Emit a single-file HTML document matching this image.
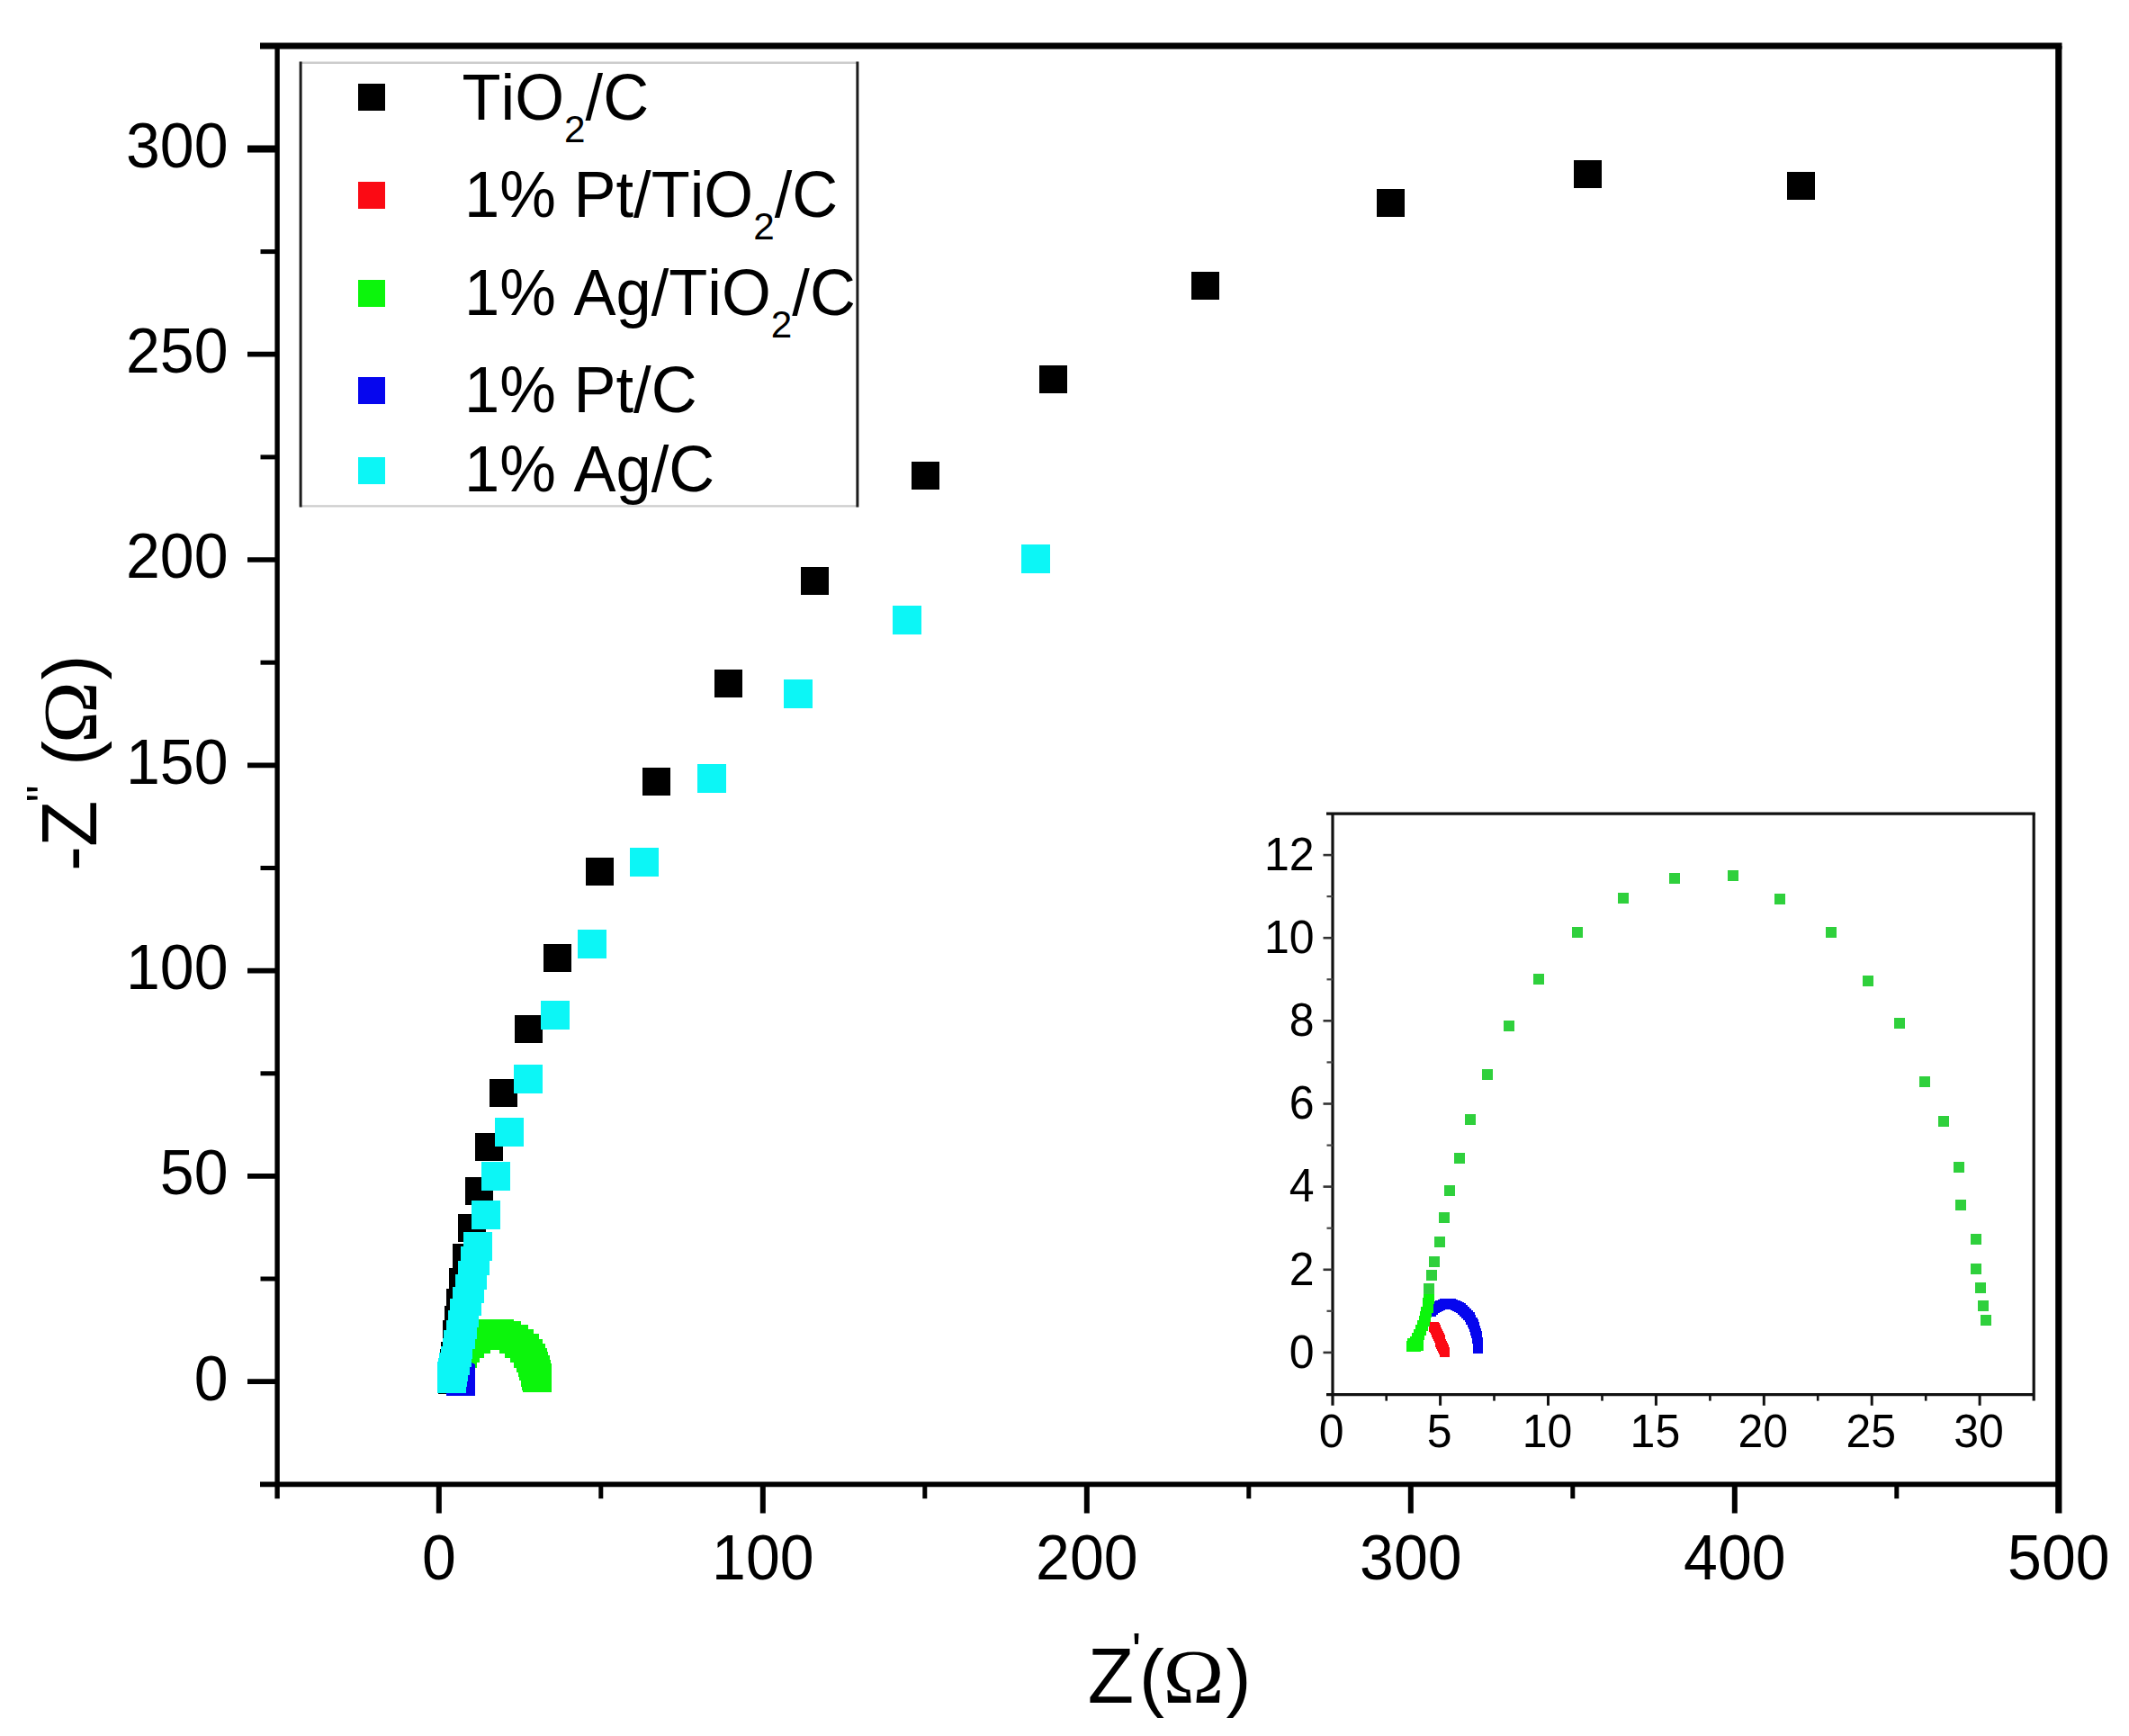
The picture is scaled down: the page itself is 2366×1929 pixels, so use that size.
<!DOCTYPE html>
<html lang="en">
<head>
<meta charset="utf-8">
<title>Nyquist plot</title>
<style>
html,body{margin:0;padding:0;background:#fff;}
body{width:2366px;height:1929px;overflow:hidden;}
svg{display:block;}
text{white-space:pre;font-kerning:none;}
</style>
</head>
<body>
<svg width="2366" height="1929" viewBox="0 0 2366 1929">
<rect x="0" y="0" width="2366" height="1929" fill="#ffffff"/>
<g shape-rendering="crispEdges">
<rect x="1985.8" y="190.8" width="31" height="31" fill="#000000"/>
<rect x="1748.6" y="177.9" width="31" height="31" fill="#000000"/>
<rect x="1529.5" y="210.0" width="31" height="31" fill="#000000"/>
<rect x="1323.6" y="302.2" width="31" height="31" fill="#000000"/>
<rect x="1154.7" y="406.3" width="31" height="31" fill="#000000"/>
<rect x="1012.9" y="512.8" width="31" height="31" fill="#000000"/>
<rect x="890.2" y="629.5" width="31" height="31" fill="#000000"/>
<rect x="793.5" y="744.1" width="31" height="31" fill="#000000"/>
<rect x="714.2" y="853.1" width="31" height="31" fill="#000000"/>
<rect x="650.7" y="953.0" width="31" height="31" fill="#000000"/>
<rect x="604.2" y="1049.3" width="31" height="31" fill="#000000"/>
<rect x="571.5" y="1128.4" width="31" height="31" fill="#000000"/>
<rect x="544.3" y="1199.2" width="31" height="31" fill="#000000"/>
<rect x="528.2" y="1258.8" width="31" height="31" fill="#000000"/>
<rect x="517.0" y="1308.2" width="31" height="31" fill="#000000"/>
<rect x="509.1" y="1349.2" width="31" height="31" fill="#000000"/>
<rect x="503.3" y="1382.2" width="31" height="31" fill="#000000"/>
<rect x="499.2" y="1409.2" width="31" height="31" fill="#000000"/>
<rect x="496.0" y="1431.5" width="31" height="31" fill="#000000"/>
<rect x="493.5" y="1450.5" width="31" height="31" fill="#000000"/>
<rect x="491.5" y="1466.5" width="31" height="31" fill="#000000"/>
<rect x="491.5" y="1479.5" width="31" height="31" fill="#000000"/>
<rect x="490.2" y="1490.5" width="31" height="31" fill="#000000"/>
<rect x="489.2" y="1498.5" width="31" height="31" fill="#000000"/>
<rect x="488.4" y="1505.5" width="31" height="31" fill="#000000"/>
<rect x="487.8" y="1510.5" width="31" height="31" fill="#000000"/>
<rect x="487.2" y="1514.5" width="31" height="31" fill="#000000"/>
<rect x="486.8" y="1517.5" width="31" height="31" fill="#000000"/>
<rect x="498.5" y="1520.1" width="22" height="22" fill="#fb0a14"/>
<rect x="498.4" y="1519.9" width="22" height="22" fill="#fb0a14"/>
<rect x="498.2" y="1519.7" width="22" height="22" fill="#fb0a14"/>
<rect x="498.1" y="1519.5" width="22" height="22" fill="#fb0a14"/>
<rect x="498.0" y="1519.2" width="22" height="22" fill="#fb0a14"/>
<rect x="497.8" y="1519.0" width="22" height="22" fill="#fb0a14"/>
<rect x="497.7" y="1518.8" width="22" height="22" fill="#fb0a14"/>
<rect x="497.6" y="1518.6" width="22" height="22" fill="#fb0a14"/>
<rect x="497.4" y="1518.4" width="22" height="22" fill="#fb0a14"/>
<rect x="497.3" y="1518.2" width="22" height="22" fill="#fb0a14"/>
<rect x="497.2" y="1517.9" width="22" height="22" fill="#fb0a14"/>
<rect x="497.0" y="1517.7" width="22" height="22" fill="#fb0a14"/>
<rect x="496.9" y="1517.5" width="22" height="22" fill="#fb0a14"/>
<rect x="496.7" y="1517.4" width="22" height="22" fill="#fb0a14"/>
<rect x="486.6" y="1515.7" width="32" height="32" fill="#0cf50c"/>
<rect x="486.8" y="1515.2" width="32" height="32" fill="#0cf50c"/>
<rect x="487.1" y="1514.7" width="32" height="32" fill="#0cf50c"/>
<rect x="487.3" y="1514.2" width="32" height="32" fill="#0cf50c"/>
<rect x="487.5" y="1513.7" width="32" height="32" fill="#0cf50c"/>
<rect x="487.7" y="1513.2" width="32" height="32" fill="#0cf50c"/>
<rect x="487.8" y="1512.7" width="32" height="32" fill="#0cf50c"/>
<rect x="487.9" y="1512.2" width="32" height="32" fill="#0cf50c"/>
<rect x="487.9" y="1511.7" width="32" height="32" fill="#0cf50c"/>
<rect x="488.0" y="1511.1" width="32" height="32" fill="#0cf50c"/>
<rect x="488.4" y="1509.7" width="32" height="32" fill="#0cf50c"/>
<rect x="488.8" y="1508.2" width="32" height="32" fill="#0cf50c"/>
<rect x="489.7" y="1506.0" width="32" height="32" fill="#0cf50c"/>
<rect x="490.4" y="1503.3" width="32" height="32" fill="#0cf50c"/>
<rect x="491.4" y="1500.3" width="32" height="32" fill="#0cf50c"/>
<rect x="492.9" y="1496.8" width="32" height="32" fill="#0cf50c"/>
<rect x="494.9" y="1492.5" width="32" height="32" fill="#0cf50c"/>
<rect x="497.6" y="1487.6" width="32" height="32" fill="#0cf50c"/>
<rect x="501.2" y="1482.2" width="32" height="32" fill="#0cf50c"/>
<rect x="506.3" y="1477.1" width="32" height="32" fill="#0cf50c"/>
<rect x="512.7" y="1471.9" width="32" height="32" fill="#0cf50c"/>
<rect x="520.3" y="1468.2" width="32" height="32" fill="#0cf50c"/>
<rect x="528.9" y="1466.0" width="32" height="32" fill="#0cf50c"/>
<rect x="538.7" y="1465.7" width="32" height="32" fill="#0cf50c"/>
<rect x="546.5" y="1468.3" width="32" height="32" fill="#0cf50c"/>
<rect x="555.0" y="1471.9" width="32" height="32" fill="#0cf50c"/>
<rect x="561.1" y="1477.3" width="32" height="32" fill="#0cf50c"/>
<rect x="566.5" y="1481.9" width="32" height="32" fill="#0cf50c"/>
<rect x="570.6" y="1488.4" width="32" height="32" fill="#0cf50c"/>
<rect x="573.8" y="1492.7" width="32" height="32" fill="#0cf50c"/>
<rect x="576.3" y="1497.8" width="32" height="32" fill="#0cf50c"/>
<rect x="576.6" y="1501.9" width="32" height="32" fill="#0cf50c"/>
<rect x="579.2" y="1505.7" width="32" height="32" fill="#0cf50c"/>
<rect x="579.2" y="1509.0" width="32" height="32" fill="#0cf50c"/>
<rect x="579.9" y="1511.1" width="32" height="32" fill="#0cf50c"/>
<rect x="580.4" y="1513.0" width="32" height="32" fill="#0cf50c"/>
<rect x="580.8" y="1514.6" width="32" height="32" fill="#0cf50c"/>
<rect x="496.1" y="1518.7" width="32" height="32" fill="#0606ee"/>
<rect x="496.1" y="1518.4" width="32" height="32" fill="#0606ee"/>
<rect x="496.1" y="1518.1" width="32" height="32" fill="#0606ee"/>
<rect x="496.0" y="1517.7" width="32" height="32" fill="#0606ee"/>
<rect x="495.9" y="1517.4" width="32" height="32" fill="#0606ee"/>
<rect x="495.8" y="1517.1" width="32" height="32" fill="#0606ee"/>
<rect x="495.7" y="1516.7" width="32" height="32" fill="#0606ee"/>
<rect x="495.5" y="1516.4" width="32" height="32" fill="#0606ee"/>
<rect x="495.3" y="1516.1" width="32" height="32" fill="#0606ee"/>
<rect x="495.1" y="1515.8" width="32" height="32" fill="#0606ee"/>
<rect x="494.9" y="1515.6" width="32" height="32" fill="#0606ee"/>
<rect x="494.7" y="1515.3" width="32" height="32" fill="#0606ee"/>
<rect x="494.4" y="1515.1" width="32" height="32" fill="#0606ee"/>
<rect x="494.2" y="1514.9" width="32" height="32" fill="#0606ee"/>
<rect x="493.9" y="1514.7" width="32" height="32" fill="#0606ee"/>
<rect x="493.6" y="1514.5" width="32" height="32" fill="#0606ee"/>
<rect x="493.3" y="1514.3" width="32" height="32" fill="#0606ee"/>
<rect x="492.9" y="1514.2" width="32" height="32" fill="#0606ee"/>
<rect x="492.6" y="1514.1" width="32" height="32" fill="#0606ee"/>
<rect x="492.3" y="1514.0" width="32" height="32" fill="#0606ee"/>
<rect x="491.9" y="1513.9" width="32" height="32" fill="#0606ee"/>
<rect x="491.6" y="1513.8" width="32" height="32" fill="#0606ee"/>
<rect x="491.2" y="1513.8" width="32" height="32" fill="#0606ee"/>
<rect x="490.9" y="1513.8" width="32" height="32" fill="#0606ee"/>
<rect x="490.5" y="1513.8" width="32" height="32" fill="#0606ee"/>
<rect x="490.2" y="1513.9" width="32" height="32" fill="#0606ee"/>
<rect x="489.8" y="1514.0" width="32" height="32" fill="#0606ee"/>
<rect x="489.5" y="1514.1" width="32" height="32" fill="#0606ee"/>
<rect x="489.2" y="1514.2" width="32" height="32" fill="#0606ee"/>
<rect x="488.9" y="1514.3" width="32" height="32" fill="#0606ee"/>
<rect x="488.5" y="1514.5" width="32" height="32" fill="#0606ee"/>
<rect x="488.2" y="1514.7" width="32" height="32" fill="#0606ee"/>
<rect x="1134.8" y="604.7" width="32" height="32" fill="#0cf6f6"/>
<rect x="991.9" y="672.6" width="32" height="32" fill="#0cf6f6"/>
<rect x="870.8" y="754.7" width="32" height="32" fill="#0cf6f6"/>
<rect x="775.4" y="849.4" width="32" height="32" fill="#0cf6f6"/>
<rect x="699.5" y="942.4" width="32" height="32" fill="#0cf6f6"/>
<rect x="642.0" y="1032.6" width="32" height="32" fill="#0cf6f6"/>
<rect x="601.1" y="1111.7" width="32" height="32" fill="#0cf6f6"/>
<rect x="570.9" y="1182.6" width="32" height="32" fill="#0cf6f6"/>
<rect x="549.7" y="1241.8" width="32" height="32" fill="#0cf6f6"/>
<rect x="535.1" y="1291.1" width="32" height="32" fill="#0cf6f6"/>
<rect x="524.1" y="1334.0" width="32" height="32" fill="#0cf6f6"/>
<rect x="515.3" y="1368.5" width="32" height="32" fill="#0cf6f6"/>
<rect x="512.0" y="1384.9" width="32" height="32" fill="#0cf6f6"/>
<rect x="508.9" y="1400.7" width="32" height="32" fill="#0cf6f6"/>
<rect x="505.9" y="1415.6" width="32" height="32" fill="#0cf6f6"/>
<rect x="503.0" y="1429.7" width="32" height="32" fill="#0cf6f6"/>
<rect x="500.3" y="1443.1" width="32" height="32" fill="#0cf6f6"/>
<rect x="497.8" y="1455.5" width="32" height="32" fill="#0cf6f6"/>
<rect x="495.5" y="1467.1" width="32" height="32" fill="#0cf6f6"/>
<rect x="493.4" y="1477.7" width="32" height="32" fill="#0cf6f6"/>
<rect x="491.5" y="1487.3" width="32" height="32" fill="#0cf6f6"/>
<rect x="489.8" y="1495.8" width="32" height="32" fill="#0cf6f6"/>
<rect x="488.3" y="1503.1" width="32" height="32" fill="#0cf6f6"/>
<rect x="487.1" y="1509.1" width="32" height="32" fill="#0cf6f6"/>
<rect x="486.2" y="1513.4" width="32" height="32" fill="#0cf6f6"/>
<rect x="485.8" y="1515.6" width="32" height="32" fill="#0cf6f6"/>
</g>
<g stroke="#000" fill="none" stroke-linecap="butt">
<line x1="289" y1="51.0" x2="2291.5" y2="51.0" stroke-width="7"/>
<line x1="2287.8" y1="51.0" x2="2287.8" y2="1681.5" stroke-width="7.2"/>
<line x1="289" y1="1649.3" x2="2287.8" y2="1649.3" stroke-width="5.8"/>
<line x1="308.1" y1="51.0" x2="308.1" y2="1665.2" stroke-width="5.4"/>
<line x1="275" y1="1535.2" x2="307.8" y2="1535.2" stroke-width="5.7"/>
<line x1="289.5" y1="1421.0" x2="307.8" y2="1421.0" stroke-width="5"/>
<line x1="275" y1="1306.9" x2="307.8" y2="1306.9" stroke-width="5.7"/>
<line x1="289.5" y1="1192.8" x2="307.8" y2="1192.8" stroke-width="5"/>
<line x1="275" y1="1078.6" x2="307.8" y2="1078.6" stroke-width="5.7"/>
<line x1="289.5" y1="964.5" x2="307.8" y2="964.5" stroke-width="5"/>
<line x1="275" y1="850.3" x2="307.8" y2="850.3" stroke-width="5.7"/>
<line x1="289.5" y1="736.2" x2="307.8" y2="736.2" stroke-width="5"/>
<line x1="275" y1="622.0" x2="307.8" y2="622.0" stroke-width="5.7"/>
<line x1="289.5" y1="507.9" x2="307.8" y2="507.9" stroke-width="5"/>
<line x1="275" y1="393.7" x2="307.8" y2="393.7" stroke-width="5.7"/>
<line x1="289.5" y1="279.6" x2="307.8" y2="279.6" stroke-width="5"/>
<line x1="275" y1="165.4" x2="307.8" y2="165.4" stroke-width="8"/>
<line x1="487.8" y1="1649.3" x2="487.8" y2="1681.5" stroke-width="6"/>
<line x1="667.8" y1="1649.3" x2="667.8" y2="1665.2" stroke-width="5"/>
<line x1="847.8" y1="1649.3" x2="847.8" y2="1681.5" stroke-width="6"/>
<line x1="1027.8" y1="1649.3" x2="1027.8" y2="1665.2" stroke-width="5"/>
<line x1="1207.8" y1="1649.3" x2="1207.8" y2="1681.5" stroke-width="6"/>
<line x1="1387.8" y1="1649.3" x2="1387.8" y2="1665.2" stroke-width="5"/>
<line x1="1567.8" y1="1649.3" x2="1567.8" y2="1681.5" stroke-width="6"/>
<line x1="1747.8" y1="1649.3" x2="1747.8" y2="1665.2" stroke-width="5"/>
<line x1="1927.8" y1="1649.3" x2="1927.8" y2="1681.5" stroke-width="6"/>
<line x1="2107.8" y1="1649.3" x2="2107.8" y2="1665.2" stroke-width="5"/>
</g>
<g font-family='"Liberation Sans", sans-serif' font-size="68" fill="#000">
<text transform="translate(253.5,1555.5) scale(1.0,1.03)" text-anchor="end">0</text>
<text transform="translate(253.5,1327.2) scale(1.0,1.03)" text-anchor="end">50</text>
<text transform="translate(253.5,1098.9) scale(1.0,1.03)" text-anchor="end">100</text>
<text transform="translate(253.5,870.6) scale(1.0,1.03)" text-anchor="end">150</text>
<text transform="translate(253.5,642.3) scale(1.0,1.03)" text-anchor="end">200</text>
<text transform="translate(253.5,414.0) scale(1.0,1.03)" text-anchor="end">250</text>
<text transform="translate(253.5,185.7) scale(1.0,1.03)" text-anchor="end">300</text>
<text transform="translate(487.8,1755.2) scale(1.0,1.03)" text-anchor="middle">0</text>
<text transform="translate(847.8,1755.2) scale(1.0,1.03)" text-anchor="middle">100</text>
<text transform="translate(1207.8,1755.2) scale(1.0,1.03)" text-anchor="middle">200</text>
<text transform="translate(1567.8,1755.2) scale(1.0,1.03)" text-anchor="middle">300</text>
<text transform="translate(1927.8,1755.2) scale(1.0,1.03)" text-anchor="middle">400</text>
<text transform="translate(2287.8,1755.2) scale(1.0,1.03)" text-anchor="middle">500</text>
</g>
<g font-family='"Liberation Sans", sans-serif' font-size="84" fill="#000">
<text transform="translate(1208.8,1892.0) scale(1.0,1.03)">Z</text>
<text transform="translate(1257.8,1852.5) scale(1.0,1.0)" font-size="55">'</text>
<text transform="translate(1266.0,1892.0) scale(1.0,1.0)">(</text>
<text transform="translate(1326.6,1892.0) scale(1.09,1.0)" text-anchor="middle" font-family='"Liberation Serif", serif'>Ω</text>
<text transform="translate(1362.6,1892.0) scale(1.0,1.0)">)</text>
</g>
<g transform="translate(107,0) rotate(-90)" font-family='"Liberation Sans", sans-serif' font-size="84" fill="#000">
<text transform="translate(-968.0,0.0) scale(1.0,1.0)">-</text>
<text transform="translate(-941.0,0.0) scale(1.0,1.03)">Z</text>
<text transform="translate(-891.2,-40.5) scale(1.0,1.0)" font-size="53">"</text>
<text transform="translate(-851.0,0.0) scale(1.0,1.0)">(</text>
<text transform="translate(-791.5,0.0) scale(1.11,1.0)" text-anchor="middle" font-family='"Liberation Serif", serif'>Ω</text>
<text transform="translate(-755.5,0.0) scale(1.0,1.0)">)</text>
</g>
<g>
<rect x="334" y="70" width="619" height="492.5" fill="#ffffff" stroke="none"/>
<line x1="333" y1="69.8" x2="954" y2="69.8" stroke="#cccccc" stroke-width="2.4"/>
<line x1="333" y1="562.4" x2="954" y2="562.4" stroke="#cccccc" stroke-width="2.4"/>
<line x1="334.1" y1="68.6" x2="334.1" y2="563.4" stroke="#1c1c1c" stroke-width="3"/>
<line x1="952.9" y1="68.6" x2="952.9" y2="563.4" stroke="#1c1c1c" stroke-width="3"/>
</g>
<g font-family='"Liberation Sans", sans-serif' font-size="70.5" fill="#000">
<rect x="397.6" y="93.3" width="30" height="30" fill="#000000" shape-rendering="crispEdges"/>
<text transform="translate(513.5,133.2) scale(1.0,1.015)">TiO<tspan font-size="42.3" dy="24.8">2</tspan><tspan dy="-24.8">/C</tspan></text>
<rect x="397.6" y="202.3" width="30" height="30" fill="#fb0a14" shape-rendering="crispEdges"/>
<text transform="translate(516.0,241.2) scale(1.0,1.015)">1% Pt/TiO<tspan font-size="42.3" dy="24.8">2</tspan><tspan dy="-24.8">/C</tspan></text>
<rect x="397.6" y="310.8" width="30" height="30" fill="#0cf50c" shape-rendering="crispEdges"/>
<text transform="translate(516.0,349.8) scale(1.0,1.015)">1% Ag/TiO<tspan font-size="42.3" dy="24.8">2</tspan><tspan dy="-24.8">/C</tspan></text>
<rect x="397.6" y="418.5" width="30" height="30" fill="#0606ee" shape-rendering="crispEdges"/>
<text transform="translate(516.0,458.4) scale(1.0,1.015)">1% Pt/C</text>
<rect x="397.6" y="507.5" width="30" height="30" fill="#0cf6f6" shape-rendering="crispEdges"/>
<text transform="translate(516.0,545.8) scale(1.0,1.015)">1% Ag/C</text>
</g>
<g>
<rect x="1481.0" y="904.2" width="779.2" height="645.4" fill="#ffffff"/>
<g shape-rendering="crispEdges">
<rect x="1599.9" y="1496.5" width="11" height="11" fill="#fb0a14"/>
<rect x="1599.0" y="1494.3" width="11" height="11" fill="#fb0a14"/>
<rect x="1598.1" y="1492.1" width="11" height="11" fill="#fb0a14"/>
<rect x="1597.2" y="1489.9" width="11" height="11" fill="#fb0a14"/>
<rect x="1596.3" y="1487.7" width="11" height="11" fill="#fb0a14"/>
<rect x="1595.4" y="1485.5" width="11" height="11" fill="#fb0a14"/>
<rect x="1594.5" y="1483.3" width="11" height="11" fill="#fb0a14"/>
<rect x="1593.6" y="1481.2" width="11" height="11" fill="#fb0a14"/>
<rect x="1592.7" y="1479.0" width="11" height="11" fill="#fb0a14"/>
<rect x="1591.8" y="1476.8" width="11" height="11" fill="#fb0a14"/>
<rect x="1590.9" y="1474.6" width="11" height="11" fill="#fb0a14"/>
<rect x="1590.0" y="1472.4" width="11" height="11" fill="#fb0a14"/>
<rect x="1589.1" y="1470.2" width="11" height="11" fill="#fb0a14"/>
<rect x="1587.9" y="1468.8" width="11" height="11" fill="#fb0a14"/>
<rect x="1637.1" y="1492.8" width="11" height="11" fill="#0606ee"/>
<rect x="1637.0" y="1489.3" width="11" height="11" fill="#0606ee"/>
<rect x="1636.7" y="1485.9" width="11" height="11" fill="#0606ee"/>
<rect x="1636.3" y="1482.4" width="11" height="11" fill="#0606ee"/>
<rect x="1635.8" y="1479.1" width="11" height="11" fill="#0606ee"/>
<rect x="1635.0" y="1475.8" width="11" height="11" fill="#0606ee"/>
<rect x="1634.2" y="1472.6" width="11" height="11" fill="#0606ee"/>
<rect x="1633.1" y="1469.4" width="11" height="11" fill="#0606ee"/>
<rect x="1632.0" y="1466.4" width="11" height="11" fill="#0606ee"/>
<rect x="1630.7" y="1463.5" width="11" height="11" fill="#0606ee"/>
<rect x="1629.2" y="1460.8" width="11" height="11" fill="#0606ee"/>
<rect x="1627.6" y="1458.2" width="11" height="11" fill="#0606ee"/>
<rect x="1626.0" y="1455.8" width="11" height="11" fill="#0606ee"/>
<rect x="1624.2" y="1453.6" width="11" height="11" fill="#0606ee"/>
<rect x="1622.3" y="1451.5" width="11" height="11" fill="#0606ee"/>
<rect x="1620.3" y="1449.7" width="11" height="11" fill="#0606ee"/>
<rect x="1618.2" y="1448.1" width="11" height="11" fill="#0606ee"/>
<rect x="1616.1" y="1446.7" width="11" height="11" fill="#0606ee"/>
<rect x="1613.9" y="1445.5" width="11" height="11" fill="#0606ee"/>
<rect x="1611.6" y="1444.5" width="11" height="11" fill="#0606ee"/>
<rect x="1609.3" y="1443.8" width="11" height="11" fill="#0606ee"/>
<rect x="1607.0" y="1443.3" width="11" height="11" fill="#0606ee"/>
<rect x="1604.7" y="1443.1" width="11" height="11" fill="#0606ee"/>
<rect x="1602.3" y="1443.1" width="11" height="11" fill="#0606ee"/>
<rect x="1600.0" y="1443.3" width="11" height="11" fill="#0606ee"/>
<rect x="1597.7" y="1443.8" width="11" height="11" fill="#0606ee"/>
<rect x="1595.4" y="1444.5" width="11" height="11" fill="#0606ee"/>
<rect x="1593.1" y="1445.5" width="11" height="11" fill="#0606ee"/>
<rect x="1590.9" y="1446.7" width="11" height="11" fill="#0606ee"/>
<rect x="1588.8" y="1448.1" width="11" height="11" fill="#0606ee"/>
<rect x="1586.7" y="1449.7" width="11" height="11" fill="#0606ee"/>
<rect x="1584.7" y="1451.5" width="11" height="11" fill="#0606ee"/>
<rect x="1563.4" y="1490.4" width="12" height="12" fill="#0cf50c"/>
<rect x="1566.5" y="1490.0" width="12" height="12" fill="#0cf50c"/>
<rect x="1569.6" y="1489.2" width="12" height="12" fill="#0cf50c"/>
<rect x="1563.8" y="1486.6" width="12" height="12" fill="#0cf50c"/>
<rect x="1567.0" y="1484.5" width="12" height="12" fill="#0cf50c"/>
<rect x="1569.0" y="1481.0" width="12" height="12" fill="#0cf50c"/>
<rect x="1571.0" y="1476.5" width="12" height="12" fill="#0cf50c"/>
<rect x="1573.0" y="1471.5" width="12" height="12" fill="#0cf50c"/>
<rect x="1574.8" y="1466.5" width="12" height="12" fill="#0cf50c"/>
<rect x="1576.5" y="1461.5" width="12" height="12" fill="#0cf50c"/>
<rect x="1578.0" y="1456.5" width="12" height="12" fill="#0cf50c"/>
<rect x="1579.4" y="1451.5" width="12" height="12" fill="#0cf50c"/>
<rect x="1580.6" y="1446.5" width="12" height="12" fill="#0cf50c"/>
<rect x="1581.4" y="1441.5" width="12" height="12" fill="#0cf50c"/>
<rect x="1582.0" y="1436.5" width="12" height="12" fill="#0cf50c"/>
<rect x="1582.1" y="1431.0" width="12" height="12" fill="#0cf50c"/>
<rect x="1582.4" y="1425.5" width="12" height="12" fill="#2fd03c"/>
<rect x="1585.0" y="1410.7" width="12" height="12" fill="#2fd03c"/>
<rect x="1587.9" y="1396.0" width="12" height="12" fill="#2fd03c"/>
<rect x="1593.6" y="1373.9" width="12" height="12" fill="#2fd03c"/>
<rect x="1598.9" y="1346.7" width="12" height="12" fill="#2fd03c"/>
<rect x="1605.2" y="1316.8" width="12" height="12" fill="#2fd03c"/>
<rect x="1615.5" y="1281.3" width="12" height="12" fill="#2fd03c"/>
<rect x="1628.4" y="1237.5" width="12" height="12" fill="#2fd03c"/>
<rect x="1646.9" y="1187.8" width="12" height="12" fill="#2fd03c"/>
<rect x="1670.9" y="1133.9" width="12" height="12" fill="#2fd03c"/>
<rect x="1704.4" y="1082.3" width="12" height="12" fill="#2fd03c"/>
<rect x="1747.1" y="1030.2" width="12" height="12" fill="#2fd03c"/>
<rect x="1797.5" y="992.0" width="12" height="12" fill="#2fd03c"/>
<rect x="1854.8" y="969.9" width="12" height="12" fill="#2fd03c"/>
<rect x="1920.0" y="967.1" width="12" height="12" fill="#2fd03c"/>
<rect x="1972.0" y="993.4" width="12" height="12" fill="#2fd03c"/>
<rect x="2028.9" y="1030.2" width="12" height="12" fill="#2fd03c"/>
<rect x="2069.6" y="1084.1" width="12" height="12" fill="#2fd03c"/>
<rect x="2105.4" y="1131.1" width="12" height="12" fill="#2fd03c"/>
<rect x="2133.0" y="1196.1" width="12" height="12" fill="#2fd03c"/>
<rect x="2154.3" y="1239.8" width="12" height="12" fill="#2fd03c"/>
<rect x="2170.6" y="1291.0" width="12" height="12" fill="#2fd03c"/>
<rect x="2173.0" y="1332.9" width="12" height="12" fill="#2fd03c"/>
<rect x="2189.8" y="1371.1" width="12" height="12" fill="#2fd03c"/>
<rect x="2189.8" y="1403.8" width="12" height="12" fill="#2fd03c"/>
<rect x="2194.8" y="1425.0" width="12" height="12" fill="#2fd03c"/>
<rect x="2197.9" y="1444.8" width="12" height="12" fill="#2fd03c"/>
<rect x="2200.6" y="1461.0" width="12" height="12" fill="#2fd03c"/>
</g>
<g stroke="#111" fill="none">
<line x1="1474" y1="904.2" x2="2261.7999999999997" y2="904.2" stroke-width="3.2"/>
<line x1="2260.2" y1="904.2" x2="2260.2" y2="1556.6" stroke-width="3.2"/>
<line x1="1474" y1="1549.6" x2="2260.2" y2="1549.6" stroke-width="3.2"/>
<line x1="1481.0" y1="904.2" x2="1481.0" y2="1561.8" stroke-width="3.2"/>
<line x1="1470.5" y1="1502.9" x2="1481.0" y2="1502.9" stroke-width="2.6" stroke="#333"/>
<line x1="1474.5" y1="1456.8" x2="1481.0" y2="1456.8" stroke-width="2.2" stroke="#444"/>
<line x1="1470.5" y1="1410.8" x2="1481.0" y2="1410.8" stroke-width="2.6" stroke="#333"/>
<line x1="1474.5" y1="1364.7" x2="1481.0" y2="1364.7" stroke-width="2.2" stroke="#444"/>
<line x1="1470.5" y1="1318.6" x2="1481.0" y2="1318.6" stroke-width="2.6" stroke="#333"/>
<line x1="1474.5" y1="1272.6" x2="1481.0" y2="1272.6" stroke-width="2.2" stroke="#444"/>
<line x1="1470.5" y1="1226.5" x2="1481.0" y2="1226.5" stroke-width="2.6" stroke="#333"/>
<line x1="1474.5" y1="1180.4" x2="1481.0" y2="1180.4" stroke-width="2.2" stroke="#444"/>
<line x1="1470.5" y1="1134.3" x2="1481.0" y2="1134.3" stroke-width="2.6" stroke="#333"/>
<line x1="1474.5" y1="1088.3" x2="1481.0" y2="1088.3" stroke-width="2.2" stroke="#444"/>
<line x1="1470.5" y1="1042.2" x2="1481.0" y2="1042.2" stroke-width="2.6" stroke="#333"/>
<line x1="1474.5" y1="996.1" x2="1481.0" y2="996.1" stroke-width="2.2" stroke="#444"/>
<line x1="1470.5" y1="950.1" x2="1481.0" y2="950.1" stroke-width="2.6" stroke="#333"/>
<line x1="1540.7" y1="1549.6" x2="1540.7" y2="1556.6" stroke-width="2.6"/>
<line x1="1600.6" y1="1549.6" x2="1600.6" y2="1561.8" stroke-width="3"/>
<line x1="1660.5" y1="1549.6" x2="1660.5" y2="1556.6" stroke-width="2.6"/>
<line x1="1720.5" y1="1549.6" x2="1720.5" y2="1561.8" stroke-width="3"/>
<line x1="1780.5" y1="1549.6" x2="1780.5" y2="1556.6" stroke-width="2.6"/>
<line x1="1840.4" y1="1549.6" x2="1840.4" y2="1561.8" stroke-width="3"/>
<line x1="1900.4" y1="1549.6" x2="1900.4" y2="1556.6" stroke-width="2.6"/>
<line x1="1960.3" y1="1549.6" x2="1960.3" y2="1561.8" stroke-width="3"/>
<line x1="2020.2" y1="1549.6" x2="2020.2" y2="1556.6" stroke-width="2.6"/>
<line x1="2080.2" y1="1549.6" x2="2080.2" y2="1561.8" stroke-width="3"/>
<line x1="2140.2" y1="1549.6" x2="2140.2" y2="1556.6" stroke-width="2.6"/>
<line x1="2200.1" y1="1549.6" x2="2200.1" y2="1561.8" stroke-width="3"/>
</g>
<g font-family='"Liberation Sans", sans-serif' font-size="50" fill="#000">
<text transform="translate(1460.5,1519.7) scale(1.0,1.03)" text-anchor="end">0</text>
<text transform="translate(1460.5,1427.6) scale(1.0,1.03)" text-anchor="end">2</text>
<text transform="translate(1460.5,1335.4) scale(1.0,1.03)" text-anchor="end">4</text>
<text transform="translate(1460.5,1243.3) scale(1.0,1.03)" text-anchor="end">6</text>
<text transform="translate(1460.5,1151.1) scale(1.0,1.03)" text-anchor="end">8</text>
<text transform="translate(1460.5,1059.0) scale(1.0,1.03)" text-anchor="end">10</text>
<text transform="translate(1460.5,966.9) scale(1.0,1.03)" text-anchor="end">12</text>
<text transform="translate(1479.7,1608.2) scale(1.0,1.03)" text-anchor="middle">0</text>
<text transform="translate(1599.6,1608.2) scale(1.0,1.03)" text-anchor="middle">5</text>
<text transform="translate(1719.5,1608.2) scale(1.0,1.03)" text-anchor="middle">10</text>
<text transform="translate(1839.4,1608.2) scale(1.0,1.03)" text-anchor="middle">15</text>
<text transform="translate(1959.3,1608.2) scale(1.0,1.03)" text-anchor="middle">20</text>
<text transform="translate(2079.2,1608.2) scale(1.0,1.03)" text-anchor="middle">25</text>
<text transform="translate(2199.1,1608.2) scale(1.0,1.03)" text-anchor="middle">30</text>
</g>
</g>
</svg>
</body>
</html>
